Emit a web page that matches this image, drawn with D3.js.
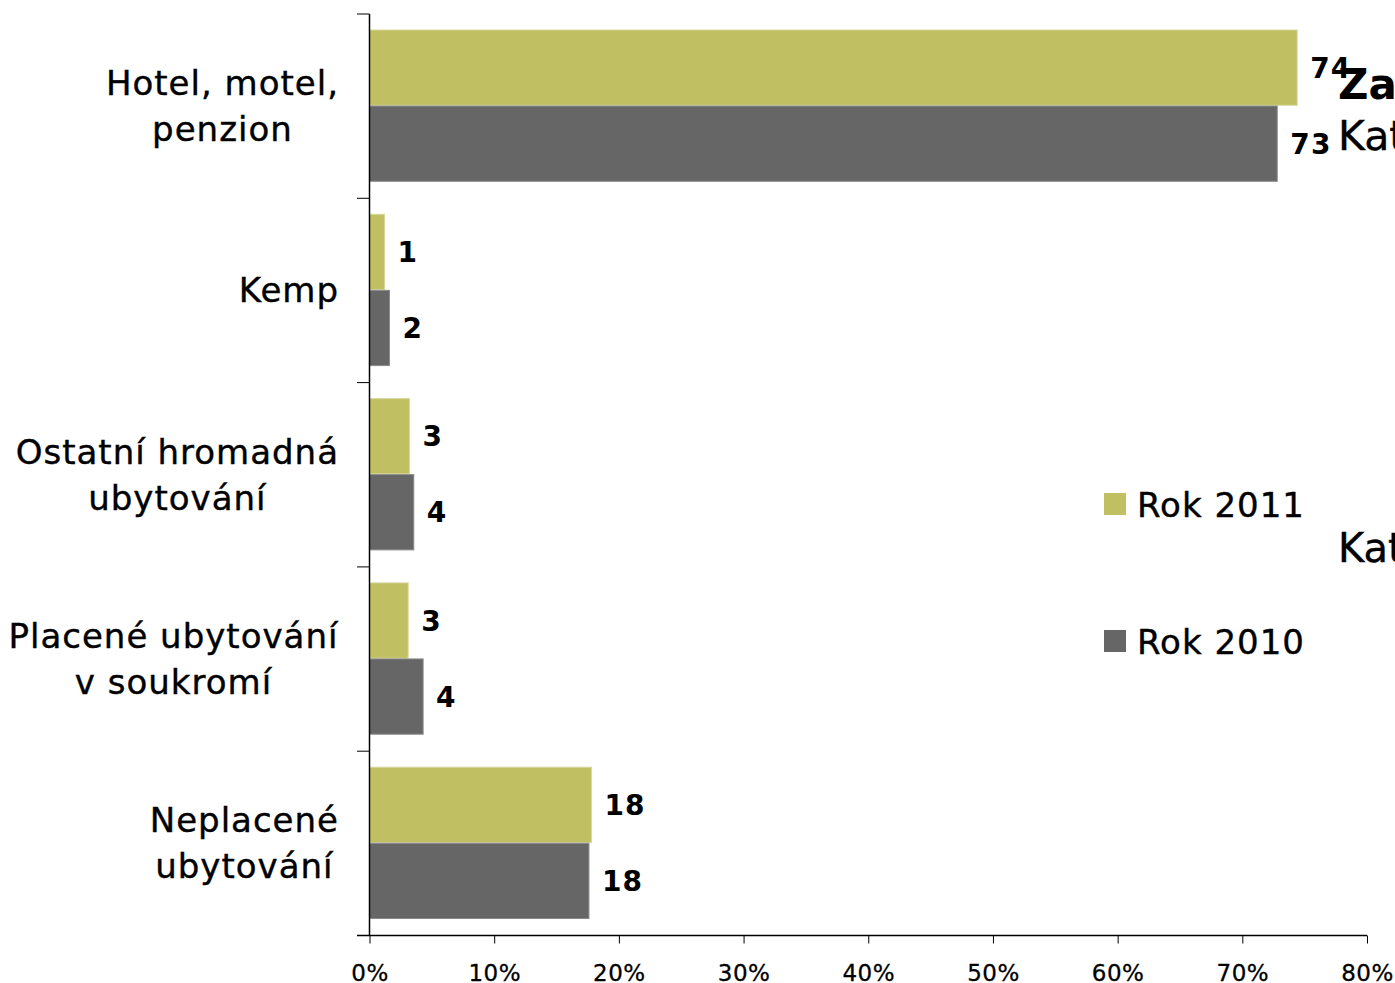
<!DOCTYPE html>
<html>
<head>
<meta charset="utf-8">
<script src="https://cdn.jsdelivr.net/npm/d3@7"></script>
<style>
  html, body { margin: 0; padding: 0; background: #fff; overflow: hidden; }
  svg { display: block; font-family: "DejaVu Sans", Verdana, sans-serif; }
</style>
</head>
<body>
<div id="chart"></div>
<script>
const width = 1395;
const height = 983;

// Data
const categories = [
  ['Hotel, motel,', 'penzion'],
  ['Kemp'],
  ['Ostatní hromadná', 'ubytování'],
  ['Placené ubytování', 'v soukromí'],
  ['Neplacené', 'ubytování']
];
const seriesNames = ['Rok 2011', 'Rok 2010'];
const values2011 = [74.4, 1.2, 3.2, 3.1, 17.8];
const values2010 = [72.8, 1.6, 3.55, 4.3, 17.6];
const labels2011 = ['74', '1', '3', '3', '18'];
const labels2010 = ['73', '2', '4', '4', '18'];
const xTicks = [0, 10, 20, 30, 40, 50, 60, 70, 80];
const colors = ['#c0bf62', '#666666'];

const svg = d3.select('#chart')
  .append('svg')
  .attr('width', width)
  .attr('height', height);

// Scales
const x = d3.scaleLinear()
  .domain([0, 80])
  .range([369.5, 1367]);

const y = d3.scaleBand()
  .domain(d3.range(categories.length))
  .range([14, 935.5])
  .paddingInner(0)
  .paddingOuter(0);

const ySub = d3.scaleBand()
  .domain([0, 1])
  .range([16, y.bandwidth() - 17])
  .paddingInner(0.01);

const rows = categories.map((c, i) => ({
  index: i,
  name: c,
  vals: [
    { s: 0, v: values2011[i], label: labels2011[i] },
    { s: 1, v: values2010[i], label: labels2010[i] }
  ]
}));

// Bars
const groups = svg.selectAll('.cat')
  .data(rows)
  .enter().append('g')
  .attr('class', 'cat')
  .attr('transform', d => `translate(0,${y(d.index)})`);

groups.selectAll('rect')
  .data(d => d.vals)
  .enter().append('rect')
  .attr('x', x(0))
  .attr('y', d => ySub(d.s))
  .attr('width', d => x(d.v) - x(0))
  .attr('height', ySub.bandwidth())
  .attr('fill', d => colors[d.s])
  .attr('stroke', d => d.s === 0 ? '#d8d8a0' : '#8a8a8a')
  .attr('stroke-width', 1);

groups.selectAll('.val')
  .data(d => d.vals)
  .enter().append('text')
  .attr('class', 'val')
  .attr('x', d => x(d.v) + 13)
  .attr('y', d => ySub(d.s) + ySub.bandwidth() / 2 + 10)
  .attr('font-size', '28px')
  .attr('font-weight', 'bold')
  .attr('letter-spacing', '1.2px')
  .attr('fill', '#000')
  .text(d => d.label);

// Category labels, centred block with right edge at 339
const lineH = 46;
groups.each(function(d) {
  const g = d3.select(this).append('g');
  const cy = y.bandwidth() / 2;
  const n = d.name.length;
  d.name.forEach((line, j) => {
    g.append('text')
      .attr('x', 0)
      .attr('y', cy - (n - 1) * lineH / 2 + j * lineH + 12)
      .attr('text-anchor', 'middle')
      .attr('font-size', '34px')
      .attr('letter-spacing', '1px')
      .attr('fill', '#000')
      .attr('stroke', '#000')
      .attr('stroke-width', 0.4)
      .text(line);
  });
  const bb = g.node().getBBox();
  g.attr('transform', `translate(${339 - (bb.x + bb.width)},0)`);
});

// Y axis line and ticks at band edges
svg.append('line')
  .attr('x1', x(0)).attr('x2', x(0))
  .attr('y1', y.range()[0]).attr('y2', y.range()[1])
  .attr('stroke', '#000').attr('stroke-width', 1.5);

const edges = d3.range(categories.length + 1).map(i => y.range()[0] + i * y.step());
svg.selectAll('.ytick')
  .data(edges)
  .enter().append('line')
  .attr('x1', 357).attr('x2', x(0))
  .attr('y1', d => d).attr('y2', d => d)
  .attr('stroke', '#000').attr('stroke-width', 1);

// X axis
const xAxis = svg.append('g')
  .attr('transform', `translate(0,${y.range()[1]})`)
  .call(d3.axisBottom(x)
    .tickValues(xTicks)
    .tickFormat(d => d + '%')
    .tickSize(8)
    .tickSizeOuter(0));

xAxis.select('.domain')
  .attr('d', `M357,0H${x(80)}`)
  .attr('stroke', '#000')
  .attr('stroke-width', 1.5);
xAxis.selectAll('.tick line').attr('stroke', '#000');
xAxis.selectAll('.tick text')
  .attr('font-family', '"DejaVu Sans", Verdana, sans-serif')
  .attr('font-size', '23px')
  .attr('letter-spacing', '0.5px')
  .attr('fill', '#000')
  .attr('stroke', '#000')
  .attr('stroke-width', 0.3)
  .attr('dy', 0)
  .attr('y', 45);

// Legend
const legend = svg.selectAll('.legend')
  .data(seriesNames)
  .enter().append('g')
  .attr('class', 'legend')
  .attr('transform', (d, i) => `translate(1104,${493 + i * 137})`);

legend.append('rect')
  .attr('width', 22)
  .attr('height', 22)
  .attr('fill', (d, i) => colors[i]);

legend.append('text')
  .attr('x', 33)
  .attr('y', 24)
  .attr('font-size', '34px')
  .attr('letter-spacing', '1px')
  .attr('fill', '#000')
  .attr('stroke', '#000')
  .attr('stroke-width', 0.4)
  .text(d => d);

// Clipped titles at the right edge
svg.append('text')
  .attr('x', 1338).attr('y', 99)
  .attr('font-size', '42px').attr('font-weight', 'bold')
  .attr('fill', '#000')
  .text('Za');
svg.append('text')
  .attr('x', 1338).attr('y', 150)
  .attr('font-size', '41px')
  .attr('fill', '#000')
  .attr('stroke', '#000')
  .attr('stroke-width', 0.4)
  .text('Kat');
svg.append('text')
  .attr('x', 1338).attr('y', 562)
  .attr('font-size', '40px')
  .attr('fill', '#000')
  .attr('stroke', '#000')
  .attr('stroke-width', 0.4)
  .text('Kat');
</script>
</body>
</html>
